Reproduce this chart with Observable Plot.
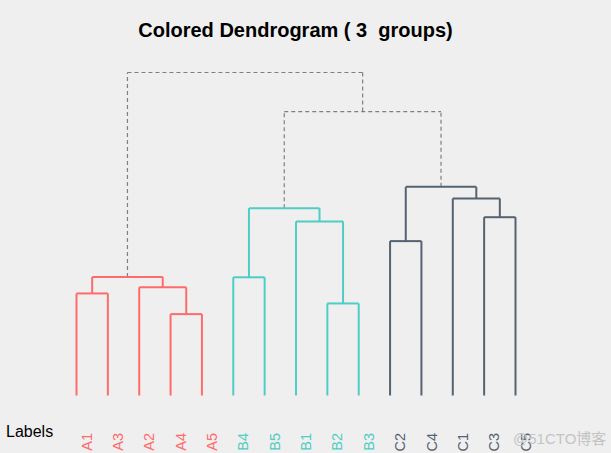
<!DOCTYPE html>
<html>
<head>
<meta charset="utf-8">
<script src="https://cdn.jsdelivr.net/npm/d3@7"></script>
<script src="https://cdn.jsdelivr.net/npm/@observablehq/plot@0.6"></script>
<style>
  html, body { margin: 0; padding: 0; background: #efefef; }
  #wrap { position: relative; width: 611px; height: 453px; overflow: hidden; font-family: "Liberation Sans", Arial, sans-serif; }
  #title { position: absolute; left: 0; width: 591px; top: 19px; text-align: center; font-weight: bold; font-size: 20px; white-space: pre; color: #000; }
  #ylab { position: absolute; left: 6px; top: 423px; font-size: 16px; color: #000; }
  #wm { position: absolute; left: 513px; top: 427px; font-size: 15px; color: #c4c4c4; font-family: "Liberation Sans", "Noto Sans CJK SC", sans-serif; }
  #chart { position: absolute; left: 0; top: 0; }
</style>
</head>
<body>
<div id="wrap">
  <div id="chart"></div>
  <div id="title">Colored Dendrogram ( 3  groups)</div>
  <div id="ylab">Labels</div>
  <div id="wm">@51CTO博客</div>
</div>
<script>
// Leaf order and groups
const leafLabels = ["A1","A3","A2","A4","A5","B4","B5","B1","B2","B3","C2","C4","C1","C3","C5"];
const leafGroups = [1,1,1,1,1,2,2,2,2,2,3,3,3,3,3];
const groupColors = {1: "#FF6B6B", 2: "#4ECDC4", 3: "#556270"};

// Merges (hclust style): negative = leaf index (1-based, into leafLabels), positive = earlier merge (1-based)
const mergeLeft   = [-4, -9, -1, -3,  3, -6, -11, -8, -14,  6, -13,  7, 10,  5];
const mergeRight  = [-5, -10, -2,  1,  4, -7, -12,  2, -15,  8,   9, 11, 12, 13];
const mergeHeight = [2.52, 2.85, 3.16, 3.35, 3.67, 3.66, 4.78, 5.39, 5.52, 5.80, 6.10, 6.46, 8.79, 10.0];

// Build node info
const nodes = mergeHeight.map(() => ({}));
function child(ref) {
  if (ref < 0) {
    const i = -ref - 1;
    return {x: i, h: 0, groups: new Set([leafGroups[i]])};
  }
  return nodes[ref - 1];
}
mergeHeight.forEach((h, k) => {
  const L = child(mergeLeft[k]), R = child(mergeRight[k]);
  const groups = new Set([...L.groups, ...R.groups]);
  nodes[k] = {x: (L.x + R.x) / 2, h, groups, L, R};
});

const segs = [];
nodes.forEach(n => {
  const same = n.groups.size === 1;
  const color = same ? groupColors[[...n.groups][0]] : "#7f7f7f";
  const dashed = !same;
  segs.push({x1: n.L.x, y1: n.L.h, x2: n.L.x, y2: n.h, color, dashed});
  segs.push({x1: n.R.x, y1: n.R.h, x2: n.R.x, y2: n.h, color, dashed});
  segs.push({x1: n.L.x, y1: n.h, x2: n.R.x, y2: n.h, color, dashed});
});

const leaves = leafLabels.map((label, i) => ({label, i, color: groupColors[leafGroups[i]]}));

const chart = Plot.plot({
  width: 611,
  height: 453,
  marginLeft: 76,
  marginRight: 96,
  marginTop: 72,
  marginBottom: 58,
  x: {domain: [0, leafLabels.length - 1], axis: null},
  y: {domain: [0, 10], axis: null},
  style: {background: "transparent", fontFamily: "Liberation Sans, Arial, sans-serif"},
  marks: [
    Plot.link(segs.filter(d => d.dashed), {x1: "x1", y1: "y1", x2: "x2", y2: "y2", stroke: "color", strokeWidth: 1.2, strokeDasharray: "4,3"}),
    Plot.link(segs.filter(d => !d.dashed), {x1: "x1", y1: "y1", x2: "x2", y2: "y2", stroke: "color", strokeWidth: 2}),
    Plot.text(leaves, {x: "i", y: 0, text: "label", fill: "color", rotate: -90, textAnchor: "end", lineAnchor: "middle", dy: 37.5, dx: 10.5, fontSize: 14.5})
  ]
});
document.getElementById("chart").appendChild(chart);
</script>
</body>
</html>
